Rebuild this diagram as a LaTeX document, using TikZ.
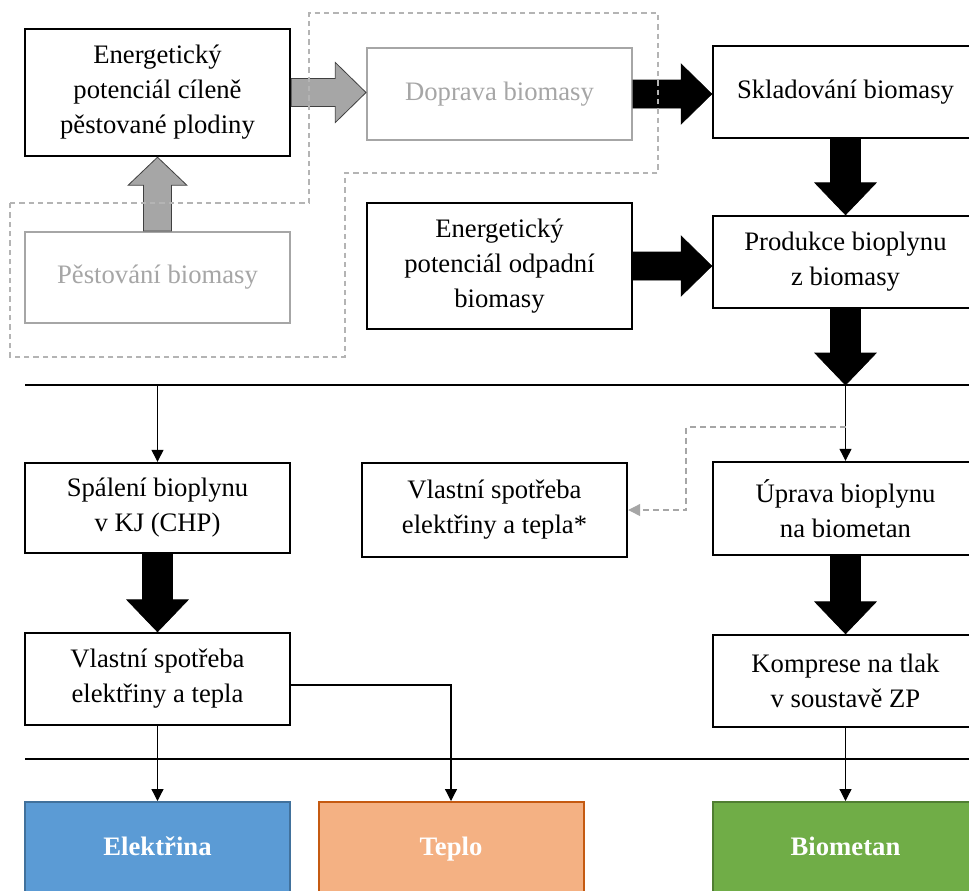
\documentclass[tikz,border=0pt]{standalone}
\usepackage{fontspec}
\setmainfont{Liberation Serif}
\usetikzlibrary{calc,arrows.meta}
\definecolor{lgray}{HTML}{A6A6A6}
\definecolor{dgray}{HTML}{404040}
\definecolor{dashgray}{HTML}{B4B4B4}
\definecolor{eblue}{HTML}{5B9BD5}
\definecolor{eblueb}{HTML}{41719C}
\definecolor{torange}{HTML}{F4B183}
\definecolor{torangeb}{HTML}{C55A11}
\definecolor{bgreen}{HTML}{70AD47}
\definecolor{bgreenb}{HTML}{507E32}
\tikzset{
  boxbase/.style={rectangle, inner sep=0pt, align=center, minimum width=198.75pt,
    font=\fontsize{20}{26.25}\selectfont},
  bbox/.style={boxbase, draw=black, line width=1.8pt, fill=white},
  gbox/.style={boxbase, draw=lgray, line width=1.5pt, fill=white, text=lgray},
  obox/.style={boxbase, line width=1.5pt, text=white, minimum height=69pt,
    font=\fontsize{20}{26.25}\selectfont\bfseries},
  blackarrow/.style={fill=black, draw=black, line width=0.5pt},
  grayarrow/.style={fill=lgray, draw=dgray, line width=0.6pt},
  thinarrow/.style={draw=black, line width=0.9pt, -{Triangle[width=9pt,length=9pt]}},
  dasharrow/.style={draw=lgray, line width=0.9pt, dash pattern=on 4.5pt off 3pt,
    -{Triangle[width=9pt,length=9pt]}},
  dashregion/.style={draw=dashgray, line width=0.8pt, dash pattern=on 4pt off 3pt},
  sepline/.style={draw=black, line width=2.2pt},
}
\newcommand\arrR[3]{\path[#3] let \p1=(#1.east), \p2=(#2.west) in
  (\x1,\y1+10.5pt) -- (\x2-23pt,\y1+10.5pt) -- (\x2-23pt,\y1+22.5pt) -- (\x2,\y1)
  -- (\x2-23pt,\y1-22.5pt) -- (\x2-23pt,\y1-10.5pt) -- (\x1,\y1-10.5pt) -- cycle;}
\newcommand\arrD[3]{\path[#3] let \p1=(#1.south), \p2=(#2) in
  (\x1-11.25pt,\y1) -- (\x1-11.25pt,\y2+24pt) -- (\x1-23pt,\y2+24pt) -- (\x1,\y2)
  -- (\x1+23pt,\y2+24pt) -- (\x1+11.25pt,\y2+24pt) -- (\x1+11.25pt,\y1) -- cycle;}
\begin{document}
\begin{tikzpicture}[x=0.75pt,y=-0.75pt]
\useasboundingbox (0,0) rectangle (969,890);
\clip (0,0) rectangle (969,890);
\fill[white] (0,0) rectangle (969,890);

% boxes
\node[bbox, minimum height=95.25pt] (pot) at (157.5,92.5) {Energetický\\potenciál cíleně\\pěstované plodiny};
\node[gbox, minimum height=68.25pt] (pest) at (157.5,277.5) {Pěstování biomasy};
\node[gbox, minimum height=69pt] (dop) at (499.5,94) {Doprava biomasy};
\node[bbox, minimum height=69pt] (skl) at (845.5,92) {Skladování biomasy};
\node[bbox, minimum height=94.5pt] (odp) at (499.5,266) {Energetický\\potenciál odpadní\\biomasy};
\node[bbox, minimum height=69pt] (prod) at (845.5,262) {Produkce bioplynu\\z biomasy};
\node[bbox, minimum height=67.5pt] (spal) at (157.5,508) {Spálení bioplynu\\v KJ (CHP)};
\node[bbox, minimum height=70.5pt] (vl2) at (494.5,510) {Vlastní spotřeba\\elektřiny a tepla*};
\node[bbox, minimum height=69.75pt] (upr) at (845.5,508.5) {Úprava bioplynu\\na biometan};
\node[bbox, minimum height=69pt] (vl1) at (157.5,679) {Vlastní spotřeba\\elektřiny a tepla};
\node[bbox, minimum height=69pt] (komp) at (845.5,681) {Komprese na tlak\\v soustavě ZP};
\node[obox, fill=eblue, draw=eblueb] (ele) at (157.5,848) {\strut Elektřina};
\node[obox, fill=torange, draw=torangeb] (tep) at (451,848) {\strut Teplo};
\node[obox, fill=bgreen, draw=bgreenb] (bio) at (845.5,848) {\strut Biometan};

% separator lines
\coordinate (L1a) at (25,385);
\coordinate (L1b) at (975,385);
\coordinate (L2a) at (25,759);
\coordinate (L2b) at (975,759);
\coordinate (L1p) at (845.5,385);

% block arrows
\path[grayarrow] let \p1=(pest.north), \p2=(pot.south) in
  (\x1-10.5pt,\y1) -- (\x1-10.5pt,\y2-21pt) -- (\x1-22pt,\y2-21pt) -- (\x1,\y2)
  -- (\x1+22pt,\y2-21pt) -- (\x1+10.5pt,\y2-21pt) -- (\x1+10.5pt,\y1) -- cycle;
\arrR{pot}{dop}{grayarrow}
\arrR{dop}{skl}{blackarrow}
\arrR{odp}{prod}{blackarrow}
\arrD{skl}{prod.north}{blackarrow}
\arrD{prod}{L1p}{blackarrow}
\arrD{spal}{vl1.north}{blackarrow}
\arrD{upr}{komp.north}{blackarrow}

\draw[sepline] (L1a) -- (L1b);
\draw[sepline] (L2a) -- (L2b);

% thin arrows
\draw[thinarrow] (spal.north |- L1a) -- (spal.north);
\draw[thinarrow] (L1p) -- (upr.north);
\draw[thinarrow] (vl1.south) -- (ele.north);
\draw[thinarrow] ([yshift=-4.5pt]vl1.east) -| (tep.north);
\draw[thinarrow] (komp.south) -- (bio.north);

% dashed arrow
\coordinate (dA) at (845.5,427);
\coordinate (dB) at (686,427);
\draw[dasharrow] (dA) -- (dB) |- (vl2.east);

% dashed region
\draw[dashregion] (10,203) -- (309,203) -- (309,13) -- (658,13) -- (658,173)
  -- (345,173) -- (345,357) -- (10,357) -- cycle;
\end{tikzpicture}
\end{document}
